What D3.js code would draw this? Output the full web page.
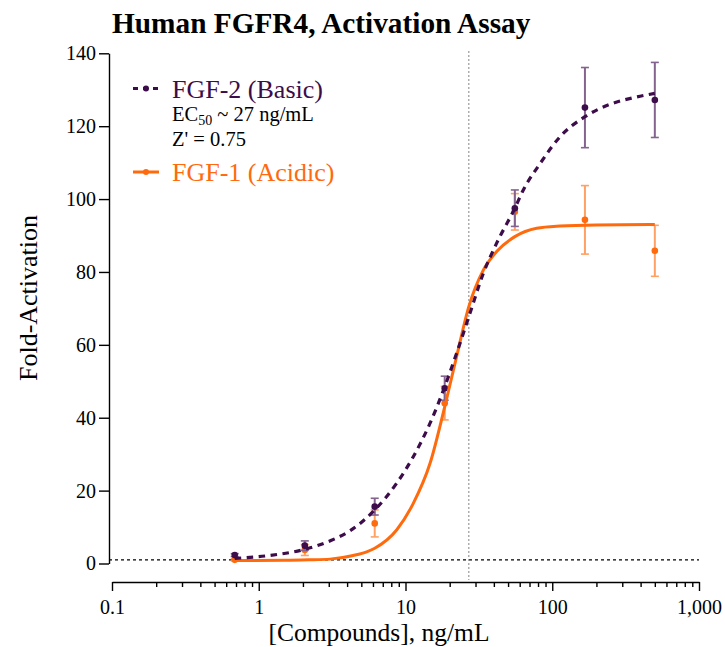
<!DOCTYPE html>
<html>
<head>
<meta charset="utf-8">
<script src="https://cdn.jsdelivr.net/npm/d3@7"></script>
<style>
  body { margin: 0; background: #fff; }
  svg { display: block; }
  svg text { font-family: "Liberation Serif", "Times New Roman", serif; }
</style>
</head>
<body>
<svg id="chart"></svg>
<script>
// Measured points (ng/mL, fold activation, error)
const conc = [0.686, 2.06, 6.17, 18.5, 55.6, 167, 500];
const fgf2Mean = [2.3, 4.9, 15.6, 48.1, 97.5, 125.1, 127.2];
const fgf2Err = [0.4, 1.3, 2.3, 3.3, 5.0, 11.0, 10.3];
const fgf1Mean = [1.0, 3.7, 11.0, 44.0, 96.5, 94.3, 85.8];
const fgf1Err = [0.3, 1.5, 3.7, 4.6, 5.0, 9.4, 7.0];

// Fitted curves
const fgf2CurveX = [0.686, 1.13, 2.06, 3.1, 4.19, 6.17, 8.7, 11.3, 14.7, 18.5, 22.3, 27, 33.9, 41.8, 55.6, 63.5, 82.5, 113, 167, 247, 356, 500];
const fgf2CurveY = [1.4, 2.1, 3.9, 6.3, 9.0, 14.7, 22.0, 29.3, 38.5, 48.5, 57.7, 67.7, 79.6, 87.9, 97.5, 102.5, 109.7, 117.1, 122.6, 126.0, 127.8, 129.0];
const fgf1CurveX = [0.686, 1.5, 2.2, 3.06, 4.4, 5.44, 6.17, 8.7, 11.3, 14.7, 18.5, 22.3, 27, 33.9, 41.8, 55.6, 78.3, 113, 200, 500];
const fgf1CurveY = [0.8, 0.9, 1.0, 1.2, 2.2, 3.2, 4.2, 9.2, 16.5, 27.5, 43.0, 56.8, 70.5, 80.5, 85.6, 89.7, 92.0, 92.6, 92.9, 93.0];

const xTicks = [0.1, 1, 10, 100, 1000];
const yTicks = [0, 20, 40, 60, 80, 100, 120, 140];
const ec50 = 27;
const baseline = 1;

const width = 725, height = 647;
const serif = "Liberation Serif, Times New Roman, serif";
const purple = "#3d0c4a", purpleBar = "#84638f";
const orange = "#ff6a0d", orangeBar = "#ffa064";

const x = d3.scaleLog().domain([0.1, 1000]).range([112, 699]);
const y = d3.scaleLinear().domain([0, 140]).range([563.5, 53.3]);
const yAxisX = 109, xAxisY = 582;

const svg = d3.select("#chart")
  .attr("width", width)
  .attr("height", height)
  .attr("viewBox", `0 0 ${width} ${height}`);

svg.append("text")
  .attr("x", 112).attr("y", 33)
  .attr("font-family", serif)
  .attr("font-size", 29.3).attr("font-weight", "bold")
  .text("Human FGFR4, Activation Assay");

// Y axis
svg.append("g")
  .attr("transform", `translate(${yAxisX},0)`)
  .call(d3.axisLeft(y).tickValues(yTicks).tickSize(10).tickSizeOuter(0).tickPadding(3))
  .call(g => g.selectAll("path, line").attr("stroke", "#000").attr("stroke-width", 1.4))
  .call(g => g.selectAll("text").attr("font-size", 20).attr("font-family", serif).attr("fill", "#000"));

// X axis with log minor ticks
const minor = d3.range(-1, 3).flatMap(e => d3.range(2, 10).map(m => m * Math.pow(10, e)));
svg.append("g")
  .attr("transform", `translate(0,${xAxisY})`)
  .call(d3.axisBottom(x).tickValues(minor).tickSize(5).tickSizeOuter(0).tickFormat(""))
  .call(g => g.select(".domain").remove())
  .call(g => g.selectAll("line").attr("stroke", "#000").attr("stroke-width", 1.4));
svg.append("g")
  .attr("transform", `translate(0,${xAxisY})`)
  .call(d3.axisBottom(x).tickValues(xTicks).tickSize(9).tickSizeOuter(0).tickPadding(9).tickFormat(d3.format(",")))
  .call(g => g.selectAll("path, line").attr("stroke", "#000").attr("stroke-width", 1.4))
  .call(g => g.selectAll("text").attr("font-size", 20).attr("font-family", serif).attr("fill", "#000"));

svg.append("text")
  .attr("x", 379).attr("y", 641)
  .attr("text-anchor", "middle")
  .attr("font-family", serif)
  .attr("font-size", 25.5)
  .text("[Compounds], ng/mL");

svg.append("text")
  .attr("transform", `translate(37,${298}) rotate(-90)`)
  .attr("text-anchor", "middle")
  .attr("font-family", serif)
  .attr("font-size", 26)
  .text("Fold-Activation");

// Reference lines
svg.append("line")
  .attr("x1", yAxisX).attr("x2", x(1000))
  .attr("y1", y(baseline)).attr("y2", y(baseline))
  .attr("stroke", "#000").attr("stroke-width", 1.2)
  .attr("stroke-dasharray", "3,3");
svg.append("line")
  .attr("x1", x(ec50)).attr("x2", x(ec50))
  .attr("y1", y(140) - 2).attr("y2", xAxisY - 2)
  .attr("stroke", "#777").attr("stroke-width", 1.2)
  .attr("stroke-dasharray", "1.5,2.5");

const line = d3.line()
  .x(d => x(d[0]))
  .y(d => y(d[1]))
  .curve(d3.curveMonotoneX);

function drawSeries(mean, err, color, barColor) {
  const g = svg.append("g");
  const I = d3.range(conc.length);
  g.selectAll("line.bar").data(I).join("line")
    .attr("x1", i => x(conc[i])).attr("x2", i => x(conc[i]))
    .attr("y1", i => y(mean[i] - err[i])).attr("y2", i => y(mean[i] + err[i]))
    .attr("stroke", barColor).attr("stroke-width", 2);
  for (const s of [-1, 1]) {
    g.selectAll(null).data(I).join("line")
      .attr("x1", i => x(conc[i]) - 4).attr("x2", i => x(conc[i]) + 4)
      .attr("y1", i => y(mean[i] + s * err[i])).attr("y2", i => y(mean[i] + s * err[i]))
      .attr("stroke", barColor).attr("stroke-width", 1.6);
  }
  g.selectAll("circle").data(I).join("circle")
    .attr("cx", i => x(conc[i])).attr("cy", i => y(mean[i]))
    .attr("r", 3.3).attr("fill", color);
}

drawSeries(fgf1Mean, fgf1Err, orange, orangeBar);
drawSeries(fgf2Mean, fgf2Err, purple, purpleBar);

svg.append("path")
  .datum(d3.zip(fgf1CurveX, fgf1CurveY))
  .attr("d", line)
  .attr("fill", "none").attr("stroke", orange).attr("stroke-width", 3);
svg.append("path")
  .datum(d3.zip(fgf2CurveX, fgf2CurveY))
  .attr("d", line)
  .attr("fill", "none").attr("stroke", purple).attr("stroke-width", 3.2)
  .attr("stroke-dasharray", "6.5,5.5");

// Legend
const legend = svg.append("g").attr("font-family", serif);
legend.append("line")
  .attr("x1", 133).attr("x2", 159).attr("y1", 88.5).attr("y2", 88.5)
  .attr("stroke", purple).attr("stroke-width", 3).attr("stroke-dasharray", "5,5");
legend.append("circle").attr("cx", 146).attr("cy", 88.5).attr("r", 3).attr("fill", purple);
legend.append("text").attr("x", 172).attr("y", 97.5).attr("font-size", 26)
  .attr("fill", purple).text("FGF-2 (Basic)");
const ec = legend.append("text").attr("x", 172).attr("y", 121).attr("font-size", 20.5).attr("fill", "#000");
ec.append("tspan").text("EC");
ec.append("tspan").attr("font-size", 14).attr("dy", 4).text("50");
ec.append("tspan").attr("dy", -4).text(" ~ 27 ng/mL");
legend.append("text").attr("x", 172).attr("y", 146).attr("font-size", 20.5)
  .attr("fill", "#000").text("Z' = 0.75");
legend.append("line")
  .attr("x1", 133).attr("x2", 159).attr("y1", 172).attr("y2", 172)
  .attr("stroke", orange).attr("stroke-width", 3);
legend.append("circle").attr("cx", 146).attr("cy", 172).attr("r", 3).attr("fill", orange);
legend.append("text").attr("x", 172).attr("y", 180.5).attr("font-size", 26)
  .attr("fill", orange).text("FGF-1 (Acidic)");
</script>
</body>
</html>
